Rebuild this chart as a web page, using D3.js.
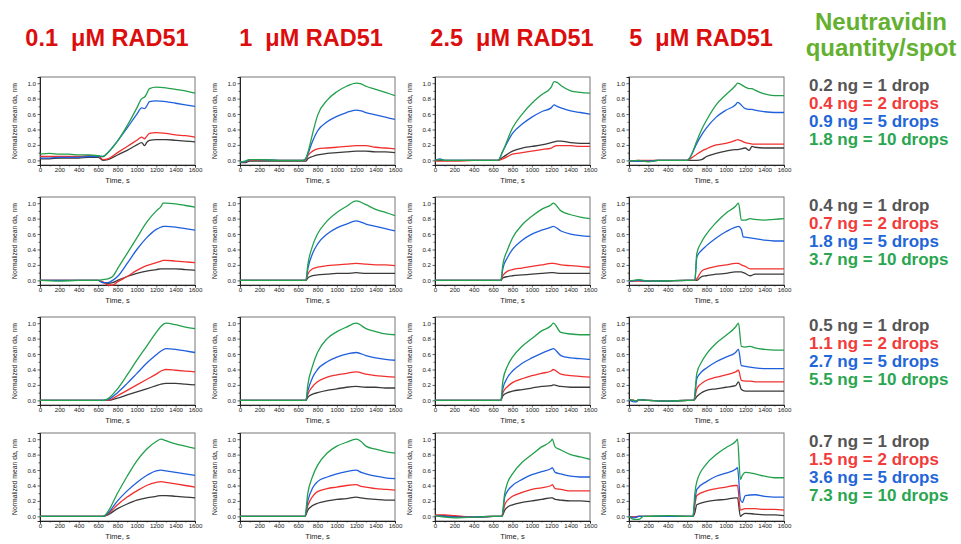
<!DOCTYPE html>
<html>
<head>
<meta charset="utf-8">
<script src="https://cdn.jsdelivr.net/npm/d3@7/dist/d3.min.js"></script>
<style>
  body { margin: 0; background: #fff; }
  svg { font-family: "Liberation Sans", Arial, sans-serif; }
</style>
</head>
<body>
<div id="chart"></div>
<script>
// column headers (RAD51 concentration) and legend text per row
const colTitles = ["0.1  μM RAD51", "1  μM RAD51", "2.5  μM RAD51", "5  μM RAD51"];
const legendRows = [
  ["0.2 ng = 1 drop", "0.4 ng = 2 drops", "0.9 ng = 5 drops", "1.8 ng = 10 drops"],
  ["0.4 ng = 1 drop", "0.7 ng = 2 drops", "1.8 ng = 5 drops", "3.7 ng = 10 drops"],
  ["0.5 ng = 1 drop", "1.1 ng = 2 drops", "2.7 ng = 5 drops", "5.5 ng = 10 drops"],
  ["0.7 ng = 1 drop", "1.5 ng = 2 drops", "3.6 ng = 5 drops", "7.3 ng = 10 drops"]
];
const xTicks = [0, 200, 400, 600, 800, 1000, 1200, 1400, 1600];
const yTicks = [0, 0.2, 0.4, 0.6, 0.8, 1.0];
const lineColors = ["#3a3a3a", "#f0302e", "#1f5fdc", "#22a04c"];
const textColors = ["#555555", "#f23b3b", "#1f66d8", "#2aa650"];

// ---- row 1 ----
const t11 = [0,100,200,300,400,500,600,650,700,800,900,1000,1050,1080,1100,1130,1200,1300,1400,1500,1600];
const k11 = [0.02,0.02,0.03,0.03,0.03,0.04,0.04,0.00,0.01,0.07,0.13,0.20,0.23,0.19,0.23,0.26,0.27,0.27,0.26,0.25,0.24];
const r11 = [0.05,0.05,0.05,0.05,0.05,0.06,0.06,0.01,0.02,0.10,0.18,0.26,0.30,0.28,0.31,0.35,0.36,0.35,0.33,0.32,0.30];
const b11 = [0.03,0.03,0.04,0.04,0.04,0.05,0.05,0.05,0.10,0.25,0.42,0.60,0.68,0.67,0.70,0.76,0.77,0.76,0.74,0.72,0.70];
const g11 = [0.08,0.09,0.08,0.08,0.07,0.07,0.06,0.05,0.10,0.25,0.45,0.68,0.80,0.82,0.86,0.93,0.95,0.94,0.92,0.90,0.87];

const t12 = [0,50,100,200,400,600,650,680,700,750,800,900,1000,1100,1200,1250,1300,1400,1500,1600];
const k12 = [-0.03,-0.03,-0.01,-0.01,-0.01,-0.01,-0.01,-0.01,0.02,0.05,0.07,0.09,0.10,0.11,0.12,0.12,0.12,0.11,0.11,0.10];
const r12 = [-0.02,-0.02,0.00,0.00,0.00,0.00,0.00,0.01,0.06,0.12,0.15,0.16,0.17,0.18,0.19,0.19,0.19,0.17,0.16,0.15];
const b12 = [-0.02,-0.02,0.01,0.01,0.00,0.00,0.00,0.02,0.08,0.25,0.38,0.50,0.57,0.62,0.65,0.64,0.62,0.59,0.56,0.53];
const g12 = [-0.02,-0.01,0.01,0.01,0.00,0.00,0.00,0.03,0.10,0.35,0.58,0.78,0.89,0.96,1.00,0.99,0.96,0.92,0.88,0.84];

const t13 = [0,50,100,200,400,600,650,700,800,900,1000,1100,1200,1230,1260,1300,1400,1500,1600];
const k13 = [0,0,0,0,0,0,0,0.04,0.12,0.16,0.18,0.20,0.23,0.24,0.25,0.25,0.23,0.22,0.22];
const r13 = [-0.01,-0.01,-0.01,-0.01,0,0,0,0.02,0.08,0.10,0.12,0.14,0.16,0.18,0.19,0.19,0.19,0.18,0.18];
const b13 = [0,0.02,0,0,0,0,0,0.12,0.35,0.47,0.56,0.63,0.68,0.72,0.70,0.68,0.64,0.62,0.60];
const g13 = [0,0.01,0,0,0,0,0,0.12,0.42,0.60,0.74,0.85,0.95,1.02,1.01,0.97,0.90,0.88,0.87];

const t14 = [0,100,200,300,400,600,620,700,750,800,900,1000,1100,1120,1200,1240,1270,1300,1400,1500,1600];
const k14 = [-0.01,-0.01,-0.01,0,0,0,0,0,0.01,0.05,0.09,0.12,0.14,0.14,0.16,0.13,0.18,0.17,0.16,0.16,0.16];
const r14 = [-0.01,0,0,0,0,0,0.01,0.08,0.12,0.15,0.20,0.22,0.26,0.27,0.23,0.22,0.21,0.21,0.21,0.21,0.21];
const b14 = [-0.01,-0.01,-0.01,0,0,0,0.02,0.22,0.33,0.42,0.56,0.65,0.72,0.75,0.67,0.66,0.66,0.65,0.63,0.62,0.62];
const g14 = [-0.01,0,-0.02,0,0,0,0.02,0.25,0.40,0.52,0.72,0.85,0.97,1.00,0.95,0.93,0.93,0.91,0.86,0.84,0.84];

// ---- row 2 ----
const t21 = [0,200,400,600,650,700,750,800,900,1000,1100,1200,1250,1270,1300,1400,1500,1600];
const k21 = [0,0,0,0,-0.03,-0.04,-0.03,0,0.05,0.09,0.12,0.14,0.15,0.15,0.15,0.15,0.14,0.13];
const r21 = [0,0,0,0,-0.02,-0.06,-0.06,-0.02,0.05,0.13,0.19,0.23,0.25,0.26,0.26,0.25,0.24,0.23];
const b21 = [0,0,0,0,-0.03,-0.03,0,0.05,0.22,0.40,0.55,0.66,0.69,0.70,0.70,0.69,0.67,0.65];
const g21 = [0,-0.01,0,0,0.01,0.02,0.05,0.15,0.35,0.55,0.75,0.90,0.96,1.00,1.00,0.99,0.97,0.95];

const t22 = [0,200,400,600,680,700,750,800,900,1000,1100,1200,1300,1400,1500,1600];
const k22 = [0,0,0,0,0,0.03,0.06,0.07,0.08,0.09,0.09,0.10,0.09,0.09,0.09,0.09];
const r22 = [0,0,0,0,0,0.08,0.15,0.17,0.19,0.20,0.21,0.22,0.21,0.20,0.20,0.19];
const b22 = [0,0,0,0,0,0.15,0.35,0.47,0.60,0.68,0.73,0.77,0.73,0.70,0.67,0.64];
const g22 = [0,0,0,0,0,0.20,0.45,0.60,0.77,0.88,0.96,1.03,0.98,0.92,0.88,0.84];

const t23 = [0,200,400,600,680,700,750,800,900,1000,1100,1200,1220,1300,1400,1500,1600];
const k23 = [0,0,0,0,0,0.03,0.05,0.06,0.07,0.08,0.09,0.10,0.10,0.09,0.09,0.09,0.09];
const r23 = [0,0,0,0,0,0.06,0.12,0.14,0.16,0.18,0.20,0.22,0.22,0.20,0.19,0.18,0.17];
const b23 = [0,0,0,0,0,0.15,0.30,0.40,0.52,0.60,0.65,0.69,0.70,0.64,0.60,0.58,0.57];
const g23 = [0,0,0,0,0,0.20,0.40,0.55,0.72,0.83,0.92,0.98,1.00,0.90,0.85,0.82,0.80];

const t24 = [0,100,200,600,680,700,750,800,900,1000,1100,1130,1160,1180,1200,1250,1300,1400,1500,1600];
const k24 = [-0.01,0,-0.01,0,0,0.00,0.05,0.06,0.08,0.09,0.11,0.11,0.11,0.10,0.09,0.06,0.08,0.08,0.08,0.08];
const r24 = [-0.01,-0.01,-0.01,0,0,0.02,0.12,0.15,0.18,0.20,0.22,0.22,0.20,0.19,0.18,0.15,0.15,0.15,0.15,0.15];
const b24 = [-0.01,0,-0.01,0,0,0.30,0.39,0.45,0.55,0.63,0.69,0.70,0.66,0.56,0.56,0.55,0.54,0.52,0.51,0.51];
const g24 = [-0.01,0.01,-0.01,0,0,0.35,0.50,0.60,0.75,0.87,0.96,1.00,0.78,0.78,0.78,0.80,0.79,0.78,0.79,0.80];

// ---- row 3 ----
const t31 = [0,200,400,600,650,700,800,900,1000,1100,1200,1250,1300,1400,1500,1600];
const k31 = [0,0,0,0,0,0.00,0.03,0.07,0.11,0.15,0.19,0.21,0.22,0.22,0.21,0.20];
const r31 = [0,0,0,0,0,0.00,0.06,0.13,0.20,0.27,0.34,0.38,0.40,0.39,0.38,0.37];
const b31 = [0,0,0,0,0,0.01,0.10,0.22,0.35,0.48,0.59,0.64,0.67,0.66,0.64,0.62];
const g31 = [0,0,0,0,0,0.02,0.15,0.33,0.52,0.70,0.88,0.96,1.00,0.98,0.95,0.93];

const t32 = [0,200,400,600,680,700,750,800,900,1000,1100,1200,1300,1400,1500,1600];
const k32 = [0,0,0,0,0,0.04,0.08,0.10,0.13,0.15,0.17,0.18,0.17,0.17,0.16,0.16];
const r32 = [0,0,0,0,0,0.08,0.18,0.24,0.30,0.33,0.35,0.37,0.34,0.32,0.31,0.30];
const b32 = [0,0,0,0,0,0.12,0.30,0.40,0.50,0.56,0.60,0.62,0.58,0.55,0.53,0.52];
const g32 = [0,0,0,0,0,0.20,0.45,0.62,0.80,0.89,0.95,1.00,0.93,0.89,0.86,0.85];

const t33 = [0,200,400,600,680,700,750,800,900,1000,1100,1200,1220,1300,1400,1500,1600];
const k33 = [0,0,0,0,0,0.06,0.10,0.12,0.14,0.16,0.18,0.19,0.20,0.18,0.17,0.17,0.17];
const r33 = [0,0,0,0,0,0.10,0.18,0.23,0.28,0.32,0.35,0.38,0.40,0.34,0.32,0.31,0.30];
const b33 = [0,0,0,0,0,0.15,0.30,0.38,0.48,0.55,0.61,0.66,0.67,0.58,0.55,0.54,0.53];
const g33 = [0,0,0,0,0,0.25,0.45,0.56,0.70,0.80,0.90,0.97,1.00,0.88,0.86,0.85,0.85];

const t34 = [0,50,80,100,200,400,600,670,700,750,800,900,1000,1100,1130,1160,1200,1250,1300,1400,1500,1600];
const k34 = [0.01,0,-0.01,0.01,0,-0.01,0,0,0.05,0.10,0.13,0.15,0.17,0.19,0.24,0.14,0.12,0.12,0.12,0.12,0.12,0.12];
const r34 = [0.01,0,-0.01,0.01,0,-0.01,0,0,0.15,0.22,0.26,0.30,0.33,0.37,0.39,0.26,0.25,0.25,0.24,0.24,0.24,0.24];
const b34 = [0.01,-0.02,-0.02,0.01,0,-0.01,0,0,0.28,0.37,0.42,0.50,0.56,0.62,0.66,0.45,0.44,0.43,0.42,0.41,0.41,0.41];
const g34 = [0.01,0,-0.01,0.01,0,-0.01,0,0,0.35,0.50,0.60,0.74,0.84,0.95,1.00,0.70,0.69,0.70,0.68,0.66,0.65,0.65];

// ---- row 4 ----
const t41 = [0,200,400,600,650,700,800,900,1000,1100,1200,1250,1300,1400,1500,1600];
const k41 = [0,0,0,0,0,0.02,0.10,0.16,0.21,0.24,0.26,0.27,0.27,0.26,0.25,0.24];
const r41 = [0,0,0,0,0,0.03,0.15,0.25,0.33,0.40,0.44,0.45,0.44,0.42,0.40,0.38];
const b41 = [0,0,0,0,0,0.04,0.20,0.33,0.44,0.53,0.59,0.60,0.59,0.57,0.55,0.53];
const g41 = [0,0,0,0,0,0.06,0.30,0.52,0.72,0.87,0.97,1.00,0.98,0.94,0.91,0.88];

const t42 = [0,200,400,600,670,700,750,800,900,1000,1100,1200,1250,1300,1400,1500,1600];
const k42 = [0,0,0,0,0,0.08,0.14,0.17,0.20,0.22,0.23,0.25,0.24,0.23,0.22,0.21,0.21];
const r42 = [0,0,0,0,0,0.14,0.26,0.32,0.36,0.38,0.40,0.41,0.39,0.38,0.36,0.35,0.34];
const b42 = [0,0,0,0,0,0.20,0.37,0.45,0.51,0.55,0.58,0.60,0.57,0.55,0.52,0.50,0.49];
const g42 = [0,0,0,0,0,0.30,0.52,0.66,0.82,0.91,0.96,1.00,0.97,0.91,0.87,0.84,0.82];

const t43 = [0,100,200,400,600,690,720,750,800,900,1000,1100,1200,1210,1240,1300,1400,1500,1600];
const k43 = [0.01,0.01,0,-0.01,0,0,0.08,0.12,0.15,0.18,0.20,0.22,0.24,0.24,0.22,0.21,0.20,0.20,0.19];
const r43 = [0.02,0.02,0.01,-0.01,0,0,0.15,0.21,0.26,0.31,0.35,0.37,0.40,0.41,0.36,0.35,0.33,0.33,0.33];
const b43 = [0.01,0,-0.01,-0.01,0,0,0.25,0.33,0.40,0.48,0.54,0.58,0.62,0.63,0.57,0.55,0.52,0.51,0.51];
const g43 = [0.01,-0.01,-0.02,-0.01,0,0,0.30,0.44,0.55,0.70,0.80,0.90,0.98,1.00,0.90,0.86,0.80,0.77,0.74];

const t44 = [0,50,100,150,200,400,600,660,680,700,800,900,1000,1100,1120,1150,1170,1200,1300,1400,1500,1600];
const k44 = [0,-0.01,0,0,0,0,0,0,0.05,0.15,0.19,0.21,0.22,0.24,0.24,0.00,0.02,0.04,0.03,0.02,0.02,0.01];
const r44 = [0,-0.01,0,0,0,0,0,0,0.15,0.27,0.33,0.36,0.38,0.40,0.40,0.08,0.09,0.10,0.10,0.09,0.09,0.08];
const b44 = [0,-0.02,0,0,0,0,0,0,0.20,0.35,0.45,0.52,0.56,0.61,0.63,0.22,0.18,0.27,0.28,0.26,0.25,0.25];
const g44 = [0,-0.04,-0.04,0,0,0.01,0,0,0.30,0.45,0.68,0.80,0.89,0.97,1.00,0.48,0.53,0.57,0.55,0.52,0.50,0.50];

const panelData = [
  [[t11, k11, r11, b11, g11], [t12, k12, r12, b12, g12], [t13, k13, r13, b13, g13], [t14, k14, r14, b14, g14]],
  [[t21, k21, r21, b21, g21], [t22, k22, r22, b22, g22], [t23, k23, r23, b23, g23], [t24, k24, r24, b24, g24]],
  [[t31, k31, r31, b31, g31], [t32, k32, r32, b32, g32], [t33, k33, r33, b33, g33], [t34, k34, r34, b34, g34]],
  [[t41, k41, r41, b41, g41], [t42, k42, r42, b42, g42], [t43, k43, r43, b43, g43], [t44, k44, r44, b44, g44]]
];

// layout of the small plots
const W = 961, H = 544;
const colX = [40, 240, 435, 629];
const rowY = [77, 197, 317, 433];
const pw = 155, ph = 88;

const svg = d3.select("#chart").append("svg")
  .attr("width", W).attr("height", H);

// column titles
const titleX = [107, 311, 512, 701];
colTitles.forEach((t, i) => {
  svg.append("text")
    .attr("x", titleX[i]).attr("y", 46)
    .attr("text-anchor", "middle")
    .attr("font-size", 23.5).attr("font-weight", "bold")
    .attr("fill", "#dc0d0d")
    .attr("xml:space", "preserve")
    .text(t);
});

// legend header
svg.append("text").attr("x", 881).attr("y", 30).attr("text-anchor", "middle")
  .attr("font-size", 24).attr("font-weight", "bold").attr("fill", "#64b030")
  .text("Neutravidin");
svg.append("text").attr("x", 881).attr("y", 56).attr("text-anchor", "middle")
  .attr("font-size", 24).attr("font-weight", "bold").attr("fill", "#64b030")
  .text("quantity/spot");

// legend blocks
legendRows.forEach((rowLabels, r) => {
  rowLabels.forEach((lab, i) => {
    svg.append("text")
      .attr("x", 809).attr("y", rowY[r] + 14 + i * 18)
      .attr("font-size", 17).attr("font-weight", "bold")
      .attr("fill", textColors[i])
      .text(lab);
  });
});

const x = d3.scaleLinear().domain([0, 1600]).range([0, pw]);
const y = d3.scaleLinear().domain([-0.06, 1.08]).range([ph, 0]);

const line = d3.line()
  .x(d => x(d[0]))
  .y(d => y(d[1]))
  .curve(d3.curveMonotoneX);

panelData.forEach((row, r) => {
  row.forEach((p, c) => {
    const g = svg.append("g")
      .attr("transform", "translate(" + colX[c] + "," + rowY[r] + ")");

    // frame
    g.append("rect").attr("width", pw).attr("height", ph)
      .attr("fill", "none").attr("stroke", "#777").attr("stroke-width", 1);

    const xAxis = d3.axisBottom(x).tickValues(xTicks).tickSize(2.5).tickFormat(d3.format("d"));
    const yAxis = d3.axisLeft(y).tickValues(yTicks).tickSize(2.5).tickFormat(d3.format(".1f"));
    // minor ticks
    const xMinor = d3.axisBottom(x).tickValues(d3.range(100, 1600, 200)).tickSize(1.5).tickFormat("");
    const yMinor = d3.axisLeft(y).tickValues([0.1, 0.3, 0.5, 0.7, 0.9]).tickSize(1.5).tickFormat("");

    const gx = g.append("g").attr("transform", "translate(0," + ph + ")").call(xAxis);
    g.append("g").attr("transform", "translate(0," + ph + ")").call(xMinor);
    const gy = g.append("g").call(yAxis);
    g.append("g").call(yMinor);

    g.selectAll(".domain").attr("stroke", "#222").attr("stroke-width", 0.9);
    g.selectAll(".tick line").attr("stroke", "#222").attr("stroke-width", 0.7);
    gx.selectAll("text").attr("font-size", 6.2).attr("fill", "#222").attr("dy", "0.6em").attr("y", 3.5);
    gy.selectAll("text").attr("font-size", 6.2).attr("fill", "#222").attr("x", -4);

    // data series: gray, red, blue, green
    const times = p[0];
    for (let s = 0; s < 4; s++) {
      const vals = p[s + 1];
      const pts = times.map((t, i) => [t, vals[i]]);
      g.append("path")
        .attr("d", line(pts))
        .attr("fill", "none")
        .attr("stroke", lineColors[s])
        .attr("stroke-width", 1.3);
    }

    // axis titles
    g.append("text")
      .attr("x", pw / 2).attr("y", ph + 18)
      .attr("text-anchor", "middle").attr("font-size", 7.5).attr("fill", "#222")
      .text("Time, s");
    g.append("text")
      .attr("transform", "translate(-23," + (ph / 2) + ") rotate(-90)")
      .attr("text-anchor", "middle").attr("font-size", 6.8).attr("fill", "#222")
      .text("Normalized mean da, nm");
  });
});
</script>
</body>
</html>
